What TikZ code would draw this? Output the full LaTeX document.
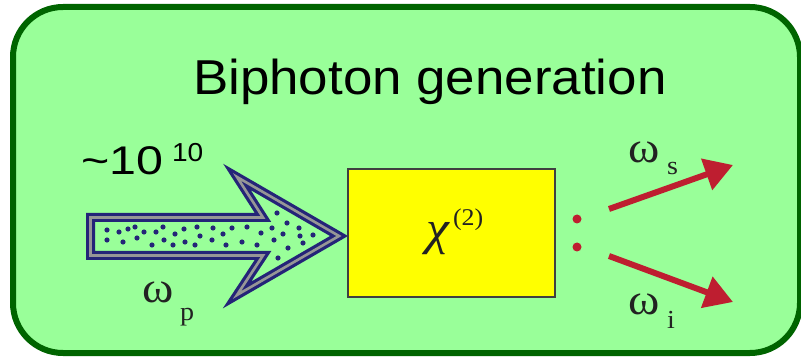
\documentclass[tikz,border=0pt]{standalone}
\usepackage{fontspec}
\setmainfont[FakeStretch=1.08]{Liberation Sans}
\newfontfamily\sergreek[FakeStretch=1.08]{Liberation Serif}
\usetikzlibrary{arrows.meta}
\definecolor{bggreen}{RGB}{153,255,153}
\definecolor{framegreen}{RGB}{0,100,0}
\definecolor{pumpnavy}{RGB}{36,36,120}
\definecolor{pumpgray}{RGB}{150,150,150}
\definecolor{boxyellow}{RGB}{255,255,0}
\definecolor{boxedge}{RGB}{64,64,64}
\definecolor{photonred}{RGB}{190,30,48}
\definecolor{greektext}{RGB}{34,34,34}
\tikzset{
  framebox/.style={draw=framegreen, fill=bggreen, line width=6pt, rounded corners=50pt, inner sep=0pt},
  crystalbox/.style={draw=boxedge, fill=boxyellow, line width=2pt, inner sep=0pt},
  reddot/.style={circle, fill=photonred, inner sep=0pt, minimum size=9pt},
  redarrow/.style={draw=photonred, line width=6pt, -{Triangle[length=28pt,width=32pt]}},
  lbl/.style={anchor=base west, inner sep=0pt, outer sep=0pt},
  greek/.style={lbl, text=greektext, font=\sergreek},
}
\begin{document}
\begin{tikzpicture}[x=1pt,y=-1pt]
\useasboundingbox (0,0) rectangle (801,358);
% frame
\node[framebox, minimum width=787pt, minimum height=346pt] (frame) at (406.5,180) {};
% title
\node[lbl] (title) at (193,95) {\fontsize{49}{49}\selectfont Biphoton generation};
% photon count
\node[lbl] (count) at (81,175) {\fontsize{40}{40}\selectfont\scalebox{1.12}[1]{\char`\~10}};
\node[lbl] (countexp) at (172,162) {\fontsize{26}{26}\selectfont 10};
% pump arrow
\path[fill=bggreen, draw=pumpnavy, line width=9pt, line join=miter]
  (90.5,217.5) -- (263,217.5) -- (237,177) -- (339,236) -- (237,295) -- (263,255.5) -- (90.5,255.5) -- cycle;
\path[draw=pumpgray, line width=2.6pt, line join=miter]
  (90.5,217.5) -- (263,217.5) -- (237,177) -- (339,236) -- (237,295) -- (263,255.5) -- (90.5,255.5) -- cycle;
\foreach \p in {(107,230),(107,240),(119,232),(123,242),(128,229),(135,227),(137,238),(144,232),(152,245),(156,232),(163,227),(164,240),(173,245),(175,234),(184,229),(185,242),(195,245),(197,227),(200,236),(212,240),(213,228),(223,234),(226,245),(232,228),(242,242),(247,227),(257,245),(261,233),(272,228),(274,240),(277,213),(278,258),(283,234),(287,223),(288,248),(299,228),(300,236),(303,243),(313,235)}
  \fill[pumpnavy] \p circle (2.6pt);
\node[greek] (wp) at (142,302) {\fontsize{44}{44}\selectfont ω};
\node[greek] (wpsub) at (180,320) {\fontsize{26}{26}\selectfont p};
% crystal
\node[crystalbox, minimum width=207pt, minimum height=128pt] (crystal) at (451.5,233) {};
\node[greek] (chi) at (426,245) {\fontsize{48}{48}\selectfont\itshape χ};
\node[greek] (chisup) at (453,226) {\fontsize{24}{24}\selectfont (2)};
% output dots
\node[reddot] (d1) at (577,219) {};
\node[reddot] (d2) at (577,247) {};
% output photons
\coordinate (s0) at (609,209);
\coordinate (s1) at (733,165);
\coordinate (i0) at (609,256);
\coordinate (i1) at (733,302);
\draw[redarrow] (s0) -- (s1);
\draw[redarrow] (i0) -- (i1);
\node[greek] (ws) at (628,163) {\fontsize{44}{44}\selectfont ω};
\node[greek] (wssub) at (667,175) {\fontsize{26}{26}\selectfont s};
\node[greek] (wi) at (628,315) {\fontsize{44}{44}\selectfont ω};
\node[greek] (wisub) at (667,328) {\fontsize{26}{26}\selectfont i};
\end{tikzpicture}
\end{document}
